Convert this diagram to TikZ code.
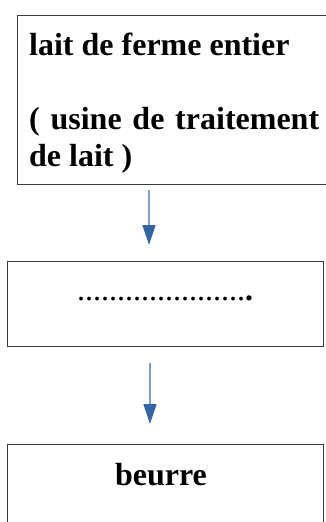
\documentclass[tikz,border=0pt]{standalone}
\usepackage{fontspec}
\setmainfont{Liberation Serif}
\usetikzlibrary{arrows.meta}
\definecolor{shaftblue}{HTML}{7A9CD0}
\definecolor{headblue}{HTML}{3465A4}
\definecolor{boxline}{HTML}{3A3A3A}
\begin{document}
\begin{tikzpicture}[x=1pt,y=-1pt,
  box/.style={draw=boxline, line width=1pt, inner sep=0pt, anchor=north west},
  lbl/.style={font=\fontsize{32}{37}\selectfont\bfseries, inner sep=0pt},
  flow/.style={draw=shaftblue, line width=1.3pt, -{Triangle[width=13pt,length=20pt,color=headblue]}}]
\useasboundingbox (0,0) rectangle (326,522);
\clip (0,0) rectangle (326,522);
% boxes
\node[box, minimum width=320pt, minimum height=168.5pt] (b1) at (16.5,15) {};
\node[box, minimum width=316pt, minimum height=85.3pt] (b2) at (7,260.7) {};
\node[box, minimum width=316pt, minimum height=100pt] (b3) at (7,444) {};
% texts (base anchor = last line)
\node[lbl, anchor=base west, align=left] (t1) at (29,166.7)
  {lait de ferme entier\\[37pt]\makebox[290pt][s]{( usine de traitement}\\de lait )};
\node[lbl, anchor=base] (t2) at (165,300.7) {{\mdseries .....................}.};
\node[lbl, anchor=base] (t3) at (161,485) {beurre};
% arrows
\coordinate (a1s) at (149,190);
\coordinate (a1e) at (149,245);
\coordinate (a2s) at (150,363);
\coordinate (a2e) at (150,424);
\draw[flow] (a1s) -- (a1e);
\draw[flow] (a2s) -- (a2e);
\end{tikzpicture}
\end{document}
